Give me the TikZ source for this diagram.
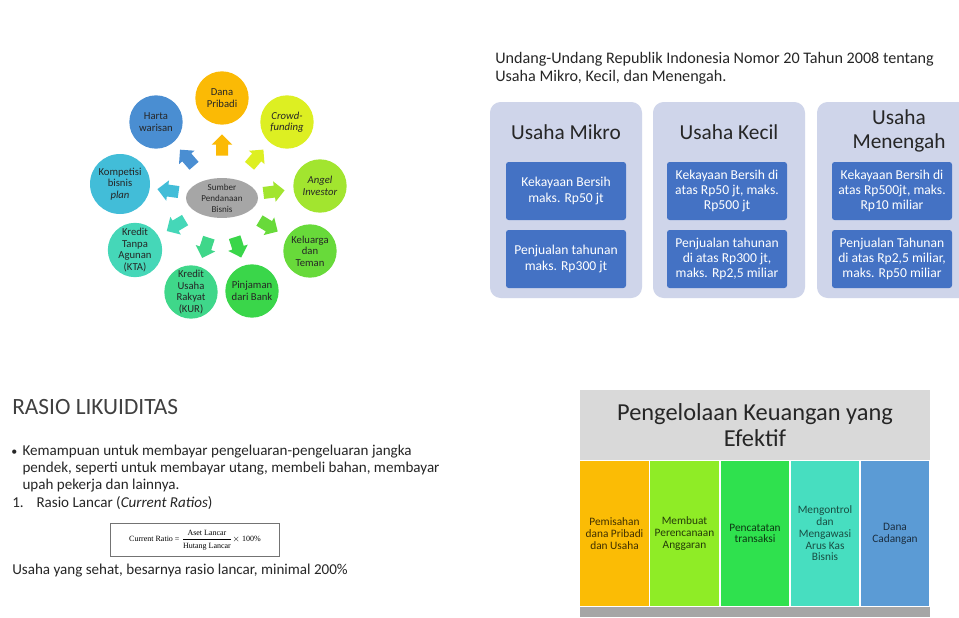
\documentclass[tikz,border=0pt]{standalone}
\usepackage{fontspec}
\setmainfont{Carlito}
\newfontfamily\serifrm{Liberation Serif}
\usetikzlibrary{shapes.geometric,shapes.arrows}
\definecolor{ink}{HTML}{262626}
\definecolor{soft}{HTML}{404040}
\definecolor{chub}{HTML}{A6A6A6}
\definecolor{cdana}{HTML}{FBBA05}
\definecolor{ccrowd}{HTML}{DDEF22}
\definecolor{cangel}{HTML}{A2E52F}
\definecolor{ckeluarga}{HTML}{68DA3A}
\definecolor{cpinjaman}{HTML}{3AD64A}
\definecolor{ckur}{HTML}{3FD78A}
\definecolor{ckta}{HTML}{45D7B8}
\definecolor{ckompetisi}{HTML}{42BDD8}
\definecolor{charta}{HTML}{4A8ED2}
\definecolor{panel}{HTML}{CFD5EA}
\definecolor{boxblue}{HTML}{4472C4}
\definecolor{hdr}{HTML}{D9D9D9}
\definecolor{band}{HTML}{A6A6A6}
\definecolor{kone}{HTML}{FBBC05}
\definecolor{ktwo}{HTML}{8FEC26}
\definecolor{kthree}{HTML}{2FE14E}
\definecolor{kfour}{HTML}{47DEC0}
\definecolor{kfive}{HTML}{5B9BD5}
\tikzset{
  hub/.style={ellipse, fill=chub, minimum width=54pt, minimum height=25pt, inner sep=0pt,
    align=center, text=ink, font=\fontsize{6.8}{8.2}\selectfont},
  src/.style={circle, minimum size=40pt, inner sep=0pt, align=center, text=ink,
    font=\fontsize{8}{8.6}\selectfont},
  blk/.style={single arrow, minimum height=16pt, single arrow head extend=3.2pt,
    inner xsep=0pt, inner ysep=4.3pt, sloped, allow upside down},
  head/.style={align=left, inner sep=0pt, text=ink, font=\fontsize{12.1}{13.5}\selectfont},
  ptitle/.style={align=center, inner sep=0pt, text=ink, font=\fontsize{16}{18.5}\selectfont},
  crit/.style={fill=boxblue, rounded corners=2pt, minimum width=90pt, minimum height=43.5pt,
    inner sep=1pt, align=center, text=white, font=\fontsize{10.2}{11.4}\selectfont},
  rtitle/.style={inner sep=0pt, text=soft, font=\fontsize{17.5}{20}\selectfont},
  body/.style={inner sep=0pt, align=left, text=ink, font=\fontsize{11.3}{12.75}\selectfont},
  fbox/.style={draw=black!55, line width=0.6pt, minimum width=127pt, minimum height=25pt,
    inner sep=0pt, font=\serifrm\fontsize{6}{6.5}\selectfont},
  htitle/.style={align=center, inner sep=0pt, text=ink, font=\fontsize{18.3}{19.5}\selectfont},
  col/.style={draw=white, line width=0.8pt, minimum width=52.5pt, minimum height=110pt,
    inner sep=0pt, align=center, font=\fontsize{8.5}{8.8}\selectfont}
}

\begin{document}
\begin{tikzpicture}[x=0.75pt,y=-0.75pt]
  \useasboundingbox[fill=white] (0,0) rectangle (959,617);
  \clip (0,0) rectangle (959,617);

  % sumber pendanaan
  \node[hub] (sumber) at (222,198) {Sumber\\Pendanaan\\Bisnis};
  \node[src,fill=cdana] (dana) at (222,98) {Dana\\Pribadi};
  \node[src,fill=ccrowd] (crowd) at (287,122) {\textit{Crowd-}\\\textit{funding}};
  \node[src,fill=cangel] (angel) at (320,186) {\textit{Angel}\\\textit{Investor}};
  \node[src,fill=ckeluarga] (keluarga) at (310,251) {Keluarga\\dan\\Teman};
  \node[src,fill=cpinjaman] (pinjaman) at (252,291) {Pinjaman\\dari Bank};
  \node[src,fill=ckur] (kur) at (191,292) {Kredit\\Usaha\\Rakyat\\(KUR)};
  \node[src,fill=ckta] (kta) at (135,250) {Kredit\\Tanpa\\Agunan\\(KTA)};
  \node[src,fill=ckompetisi,minimum size=45pt] (kompetisi) at (120,184) {Kompetisi\\bisnis\\\textit{plan}};
  \node[src,fill=charta] (harta) at (156,122) {Harta\\warisan};
  \foreach \k in {dana,crowd,angel,keluarga,pinjaman,kur,kta,kompetisi,harta}
    \path (sumber.center) -- node[blk,fill=c\k] (ar\k) {} (\k.center);

  % undang-undang
  \node[head,anchor=north west] (uu) at (495,52)
    {Undang-Undang Republik Indonesia Nomor 20 Tahun 2008 tentang\\Usaha Mikro, Kecil, dan Menengah.};
  \fill[panel,rounded corners=8pt] (490,102) rectangle (642,298);
  \fill[panel,rounded corners=8pt] (653,102) rectangle (805,298);
  \fill[panel,rounded corners=8pt] (817,102) rectangle (976,298);
  \node[ptitle] (mikro) at (566,132) {Usaha Mikro};
  \node[ptitle] (kecil) at (729,132) {Usaha Kecil};
  \node[ptitle] (menengah) at (899,131) {Usaha\\Menengah};
  \node[crit] (mikroa) at (566,191) {Kekayaan Bersih\\maks. Rp50 jt};
  \node[crit] (mikrob) at (566,259) {Penjualan tahunan\\maks. Rp300 jt};
  \node[crit] (kecila) at (727,191) {Kekayaan Bersih di\\atas Rp50 jt, maks.\\Rp500 jt};
  \node[crit] (kecilb) at (727,259) {Penjualan tahunan\\di atas Rp300 jt,\\maks. Rp2,5 miliar};
  \node[crit] (menengaha) at (892,191) {Kekayaan Bersih di\\atas Rp500jt, maks.\\Rp10 miliar};
  \node[crit] (menengahb) at (892,259) {Penjualan Tahunan\\di atas Rp2,5 miliar,\\maks. Rp50 miliar};

  % rasio likuiditas
  \node[rtitle,anchor=west] (rasio) at (12,407) {RASIO LIKUIDITAS};
  \node[body,anchor=north west] (poin) at (11,443)
    {\begin{tabular}{@{}l@{\hspace{4pt}}l@{}}
     {\small\textbullet} & Kemampuan untuk membayar pengeluaran-pengeluaran jangka\\
     & pendek, seperti untuk membayar utang, membeli bahan, membayar\\
     & upah pekerja dan lainnya.
     \end{tabular}};
  \node[body,anchor=west] (lancar) at (12,503) {1.\hspace{0.85em}Rasio Lancar (\textit{Current Ratios})};
  \node[fbox] (formula) at (195,540)
    {Current Ratio = $\displaystyle\frac{\mbox{\serifrm\fontsize{6}{6.5}\selectfont Aset Lancar}}{\mbox{\serifrm\fontsize{6}{6.5}\selectfont Hutang Lancar}}\times$ 100\%};
  \node[body,anchor=west] (sehat) at (12,571) {Usaha yang sehat, besarnya rasio lancar, minimal 200\%};

  % pengelolaan keuangan
  \fill[band] (580,390) rectangle (930,617);
  \fill[hdr] (580,390) rectangle (930,460);
  \node[htitle] (kelola) at (755,425) {Pengelolaan Keuangan yang\\Efektif};
  \node[col,fill=kone,text=kone!25!black] (pisah) at (614.5,533.5) {Pemisahan\\dana Pribadi\\dan Usaha};
  \node[col,fill=ktwo,text=ktwo!25!black] (anggaran) at (684.5,533.5) {Membuat\\Perencanaan\\Anggaran};
  \node[col,fill=kthree,text=kthree!25!black] (catat) at (755,533.5) {Pencatatan\\transaksi};
  \node[col,fill=kfour,text=kfour!35!black] (awasi) at (825,533.5) {Mengontrol\\dan\\Mengawasi\\Arus Kas\\Bisnis};
  \node[col,fill=kfive,text=kfive!30!black] (cadangan) at (895,533.5) {Dana\\Cadangan};
\end{tikzpicture}
\end{document}
